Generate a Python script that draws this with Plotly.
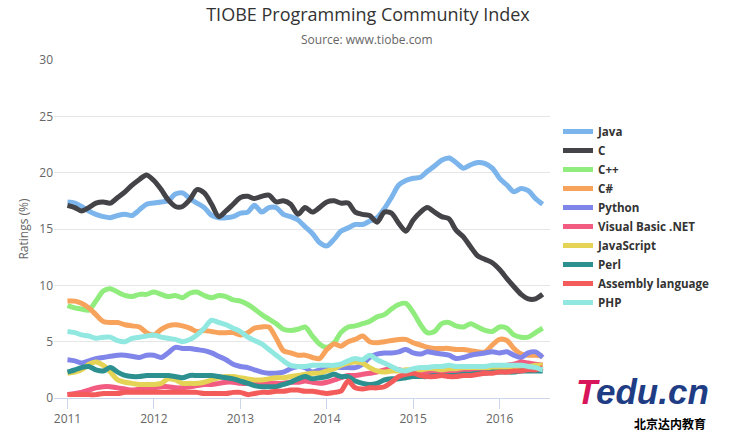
import plotly.graph_objects as go
import pandas as pd

months = pd.date_range("2011-01-01", "2016-07-01", freq="MS")

java = [17.4, 17.3, 17.0, 16.6, 16.3, 16.1, 16.0, 16.2, 16.3, 16.2, 16.7, 17.2, 17.3, 17.4, 17.5, 18.1, 18.2, 17.7, 17.3, 16.9, 16.2, 16.0, 16.0, 16.1, 16.4, 16.5, 17.1, 16.5, 16.9, 16.9, 16.3, 16.1, 15.8, 15.2, 14.6, 13.8, 13.5, 14.1, 14.8, 15.1, 15.4, 15.4, 15.7, 16.0, 16.8, 17.8, 18.9, 19.3, 19.5, 19.6, 20.1, 20.6, 21.1, 21.3, 20.9, 20.4, 20.7, 20.9, 20.8, 20.4, 19.5, 18.9, 18.3, 18.6, 18.4, 17.7, 17.2]
c_lang = [17.1, 16.9, 16.6, 16.9, 17.3, 17.4, 17.3, 17.8, 18.3, 18.9, 19.4, 19.8, 19.3, 18.5, 17.6, 17.0, 17.0, 17.6, 18.5, 18.2, 17.2, 16.1, 16.6, 17.2, 17.8, 17.9, 17.7, 17.9, 18.0, 17.4, 17.5, 17.2, 16.3, 16.9, 16.5, 16.9, 17.4, 17.5, 17.3, 17.3, 16.5, 16.3, 16.2, 15.6, 16.5, 16.4, 15.5, 14.8, 15.8, 16.5, 16.9, 16.5, 16.1, 15.9, 14.9, 14.3, 13.4, 12.6, 12.3, 12.0, 11.4, 10.6, 9.9, 9.2, 8.8, 8.8, 9.2]
cpp = [8.2, 8.0, 7.9, 7.8, 8.6, 9.5, 9.7, 9.4, 9.1, 9.0, 9.2, 9.2, 9.4, 9.2, 9.0, 9.1, 8.9, 9.3, 9.4, 9.1, 8.9, 9.1, 9.0, 8.7, 8.6, 8.3, 7.9, 7.4, 7.0, 6.6, 6.1, 6.0, 6.1, 6.3, 5.5, 4.8, 4.5, 4.9, 5.8, 6.3, 6.4, 6.6, 6.8, 7.2, 7.4, 7.9, 8.3, 8.4, 7.6, 6.5, 5.8, 5.9, 6.6, 6.7, 6.4, 6.3, 6.6, 6.3, 6.0, 5.9, 6.3, 6.2, 5.6, 5.4, 5.4, 5.8, 6.2]
csharp = [8.6, 8.6, 8.4, 8.0, 7.4, 6.8, 6.7, 6.7, 6.5, 6.4, 6.3, 5.8, 5.6, 6.1, 6.4, 6.5, 6.4, 6.2, 5.9, 6.0, 5.9, 5.8, 5.8, 5.8, 5.6, 5.8, 6.2, 6.3, 6.3, 5.3, 4.2, 4.0, 3.8, 3.8, 3.6, 3.5, 4.3, 4.8, 4.6, 5.0, 5.2, 5.5, 5.0, 4.9, 5.0, 5.1, 5.2, 5.2, 4.9, 4.7, 4.5, 4.4, 4.4, 4.4, 4.3, 4.3, 4.2, 4.1, 4.1, 4.7, 5.2, 5.1, 4.4, 3.9, 3.8, 3.8, 3.7]
python = [3.4, 3.3, 3.1, 3.3, 3.5, 3.6, 3.7, 3.8, 3.8, 3.7, 3.6, 3.8, 3.8, 3.6, 4.0, 4.5, 4.4, 4.4, 4.3, 4.2, 4.0, 3.7, 3.4, 3.0, 2.8, 2.7, 2.5, 2.3, 2.2, 2.2, 2.3, 2.6, 2.8, 2.7, 2.3, 2.5, 2.6, 2.7, 2.7, 2.7, 2.7, 3.0, 3.6, 3.9, 4.0, 4.0, 4.1, 4.3, 4.0, 3.9, 4.1, 4.0, 3.9, 3.8, 3.5, 3.6, 3.8, 3.9, 4.0, 4.1, 4.0, 4.1, 3.8, 3.6, 4.0, 4.1, 3.6]
vbnet = [0.3, 0.4, 0.5, 0.7, 0.9, 1.0, 1.0, 0.9, 0.8, 0.7, 0.8, 0.9, 0.9, 1.0, 1.0, 0.9, 0.9, 1.0, 1.1, 1.2, 1.2, 1.3, 1.4, 1.4, 1.3, 1.3, 1.3, 1.3, 1.3, 1.3, 1.3, 1.4, 1.4, 1.5, 1.4, 1.3, 1.4, 1.6, 1.8, 2.0, 2.0, 2.1, 2.2, 2.3, 2.5, 2.6, 2.5, 2.4, 2.3, 2.4, 2.3, 2.3, 2.2, 2.3, 2.4, 2.4, 2.5, 2.5, 2.6, 2.7, 2.8, 2.9, 3.0, 3.2, 3.1, 3.0, 2.9]
javascript = [2.2, 2.3, 2.5, 3.0, 3.2, 2.9, 2.3, 1.6, 1.4, 1.3, 1.2, 1.2, 1.2, 1.3, 1.7, 1.6, 1.3, 1.3, 1.3, 1.4, 1.6, 1.8, 1.9, 1.9, 1.8, 1.7, 1.6, 1.6, 1.7, 1.8, 1.8, 1.9, 2.0, 2.1, 2.2, 2.2, 2.4, 2.6, 2.9, 3.1, 3.2, 3.1, 2.7, 2.4, 2.3, 2.4, 2.4, 2.5, 2.5, 2.5, 2.6, 2.6, 2.5, 2.6, 2.6, 2.7, 2.7, 2.7, 2.7, 2.7, 2.7, 2.7, 2.8, 2.8, 2.8, 2.9, 2.9]
perl = [2.3, 2.5, 2.7, 2.8, 2.5, 2.4, 2.7, 2.3, 2.0, 1.9, 1.9, 2.0, 2.0, 2.0, 2.0, 1.9, 1.8, 2.0, 2.0, 2.0, 2.0, 1.9, 1.8, 1.7, 1.5, 1.3, 1.1, 1.0, 1.0, 1.0, 1.2, 1.4, 1.7, 1.9, 1.7, 1.8, 1.9, 2.1, 1.9, 1.9, 1.5, 1.3, 1.2, 1.3, 1.6, 1.7, 1.7, 1.8, 1.9, 1.9, 1.9, 2.0, 2.0, 2.0, 2.0, 2.1, 2.1, 2.2, 2.2, 2.3, 2.3, 2.3, 2.3, 2.4, 2.4, 2.4, 2.4]
assembly = [0.3, 0.3, 0.3, 0.3, 0.3, 0.4, 0.4, 0.4, 0.5, 0.5, 0.5, 0.5, 0.5, 0.5, 0.5, 0.5, 0.5, 0.5, 0.5, 0.4, 0.4, 0.4, 0.4, 0.5, 0.5, 0.3, 0.4, 0.5, 0.5, 0.6, 0.6, 0.7, 0.7, 0.6, 0.6, 0.5, 0.4, 0.5, 0.6, 1.5, 0.9, 0.8, 0.9, 0.9, 1.0, 1.4, 1.9, 2.1, 2.2, 2.0, 1.9, 1.9, 2.0, 1.9, 1.9, 2.0, 2.0, 2.1, 2.2, 2.2, 2.3, 2.3, 2.4, 2.4, 2.5, 2.5, 2.7]
php = [5.9, 5.8, 5.6, 5.5, 5.3, 5.4, 5.4, 5.1, 5.0, 5.3, 5.4, 5.5, 5.6, 5.4, 5.3, 5.2, 5.0, 5.2, 5.6, 6.2, 6.9, 6.7, 6.5, 6.2, 5.9, 5.4, 5.1, 4.8, 4.3, 3.8, 3.3, 2.9, 2.8, 2.8, 2.9, 2.9, 2.9, 2.9, 3.0, 3.3, 3.5, 3.4, 3.8, 3.4, 3.1, 2.8, 2.5, 2.4, 2.6, 2.7, 2.7, 2.8, 2.8, 2.9, 2.8, 2.8, 2.8, 2.8, 2.8, 2.9, 2.9, 2.9, 2.9, 2.9, 2.8, 2.7, 2.5]

series_names = ["Java", "C", "C++", "C#", "Python", "Visual Basic .NET", "JavaScript", "Perl", "Assembly language", "PHP"]
series_values = [java, c_lang, cpp, csharp, python, vbnet, javascript, perl, assembly, php]
colors = ["#7cb5ec", "#434348", "#90ed7d", "#f7a35c", "#8085e9", "#f15c80", "#e4d354", "#2b908f", "#f45b5b", "#91e8e1"]

year_ticks = ["2011-01-01", "2012-01-01", "2013-01-01", "2014-01-01", "2015-01-01", "2016-01-01"]
year_labels = ["2011", "2012", "2013", "2014", "2015", "2016"]

W, H = 732, 437
L, R, T, B = 54, 550, 60, 398
PW, PH = R - L, B - T


def px(x):
    return (x - L) / PW


def py(y):
    return (B - y) / PH


fig = go.Figure()
for name, vals, col in zip(series_names, series_values, colors):
    fig.add_trace(go.Scatter(
        x=months, y=vals, name=name, mode="lines",
        line=dict(color=col, width=5, shape="spline", smoothing=0.8),
        hoverinfo="skip",
    ))

fig.update_layout(
    width=W, height=H,
    margin=dict(l=L, r=W - R, t=T, b=H - B, autoexpand=False),
    paper_bgcolor="white", plot_bgcolor="white",
    font=dict(family="Open Sans, Lato, sans-serif", color="#666666", size=12),
    title=dict(text="TIOBE Programming Community Index", x=368 / W, xanchor="center",
               y=1 - 15 / H, yanchor="middle", yref="container",
               font=dict(size=18, color="#333333", family="Open Sans, sans-serif")),
    showlegend=True,
    legend=dict(x=px(558), xanchor="left", y=py(117), yanchor="top",
                font=dict(size=11.6, color="#333333", family="Open Sans, sans-serif", weight="bold"),
                tracegroupgap=0, itemwidth=30, bgcolor="rgba(0,0,0,0)"),
    xaxis=dict(
        range=["2010-11-05", "2016-08-01"],
        tickvals=year_ticks, ticktext=year_labels,
        showgrid=False, showline=True, linecolor="#ccd6eb", linewidth=1,
        ticks="outside", ticklen=10, tickcolor="#ccd6eb",
        tickfont=dict(size=12, color="#666666"), zeroline=False, automargin=False,
    ),
    yaxis=dict(
        range=[0, 30], tickvals=[0, 5, 10, 15, 20, 25, 30],
        showgrid=True, gridcolor="#e6e6e6", gridwidth=1,
        showline=False, zeroline=False, ticks="",
        tickfont=dict(size=12, color="#666666"), automargin=False,
        title=dict(text="Ratings (%)", font=dict(size=12, color="#666666"), standoff=8),
    ),
)

fig.add_annotation(text="Source: www.tiobe.com", xref="paper", yref="paper",
                   x=px(367), y=py(40), xanchor="center", yanchor="middle",
                   showarrow=False, font=dict(size=12, color="#666666"))

# logo text
fig.add_annotation(text="<b><i>T</i></b>", xref="paper", yref="paper",
                   x=px(574), y=py(391), xanchor="left", yanchor="middle",
                   showarrow=False, font=dict(size=35, color="#d8145a", family="Liberation Sans, Arial"))
fig.add_annotation(text="<b><i>edu.cn</i></b>", xref="paper", yref="paper",
                   x=px(594), y=py(391), xanchor="left", yanchor="middle",
                   showarrow=False, font=dict(size=35, color="#1f3d84", family="Liberation Sans, Arial"))
fig.add_annotation(text="<b>北京达内教育</b>", xref="paper", yref="paper",
                   x=px(670), y=py(423), xanchor="center", yanchor="middle",
                   showarrow=False, font=dict(size=12, color="#000000", family="Noto Sans CJK SC"))

fig.write_html("out.html", config={"displayModeBar": False, "staticPlot": True},
               post_script="document.body.style.margin='0';document.body.style.overflow='hidden';")
